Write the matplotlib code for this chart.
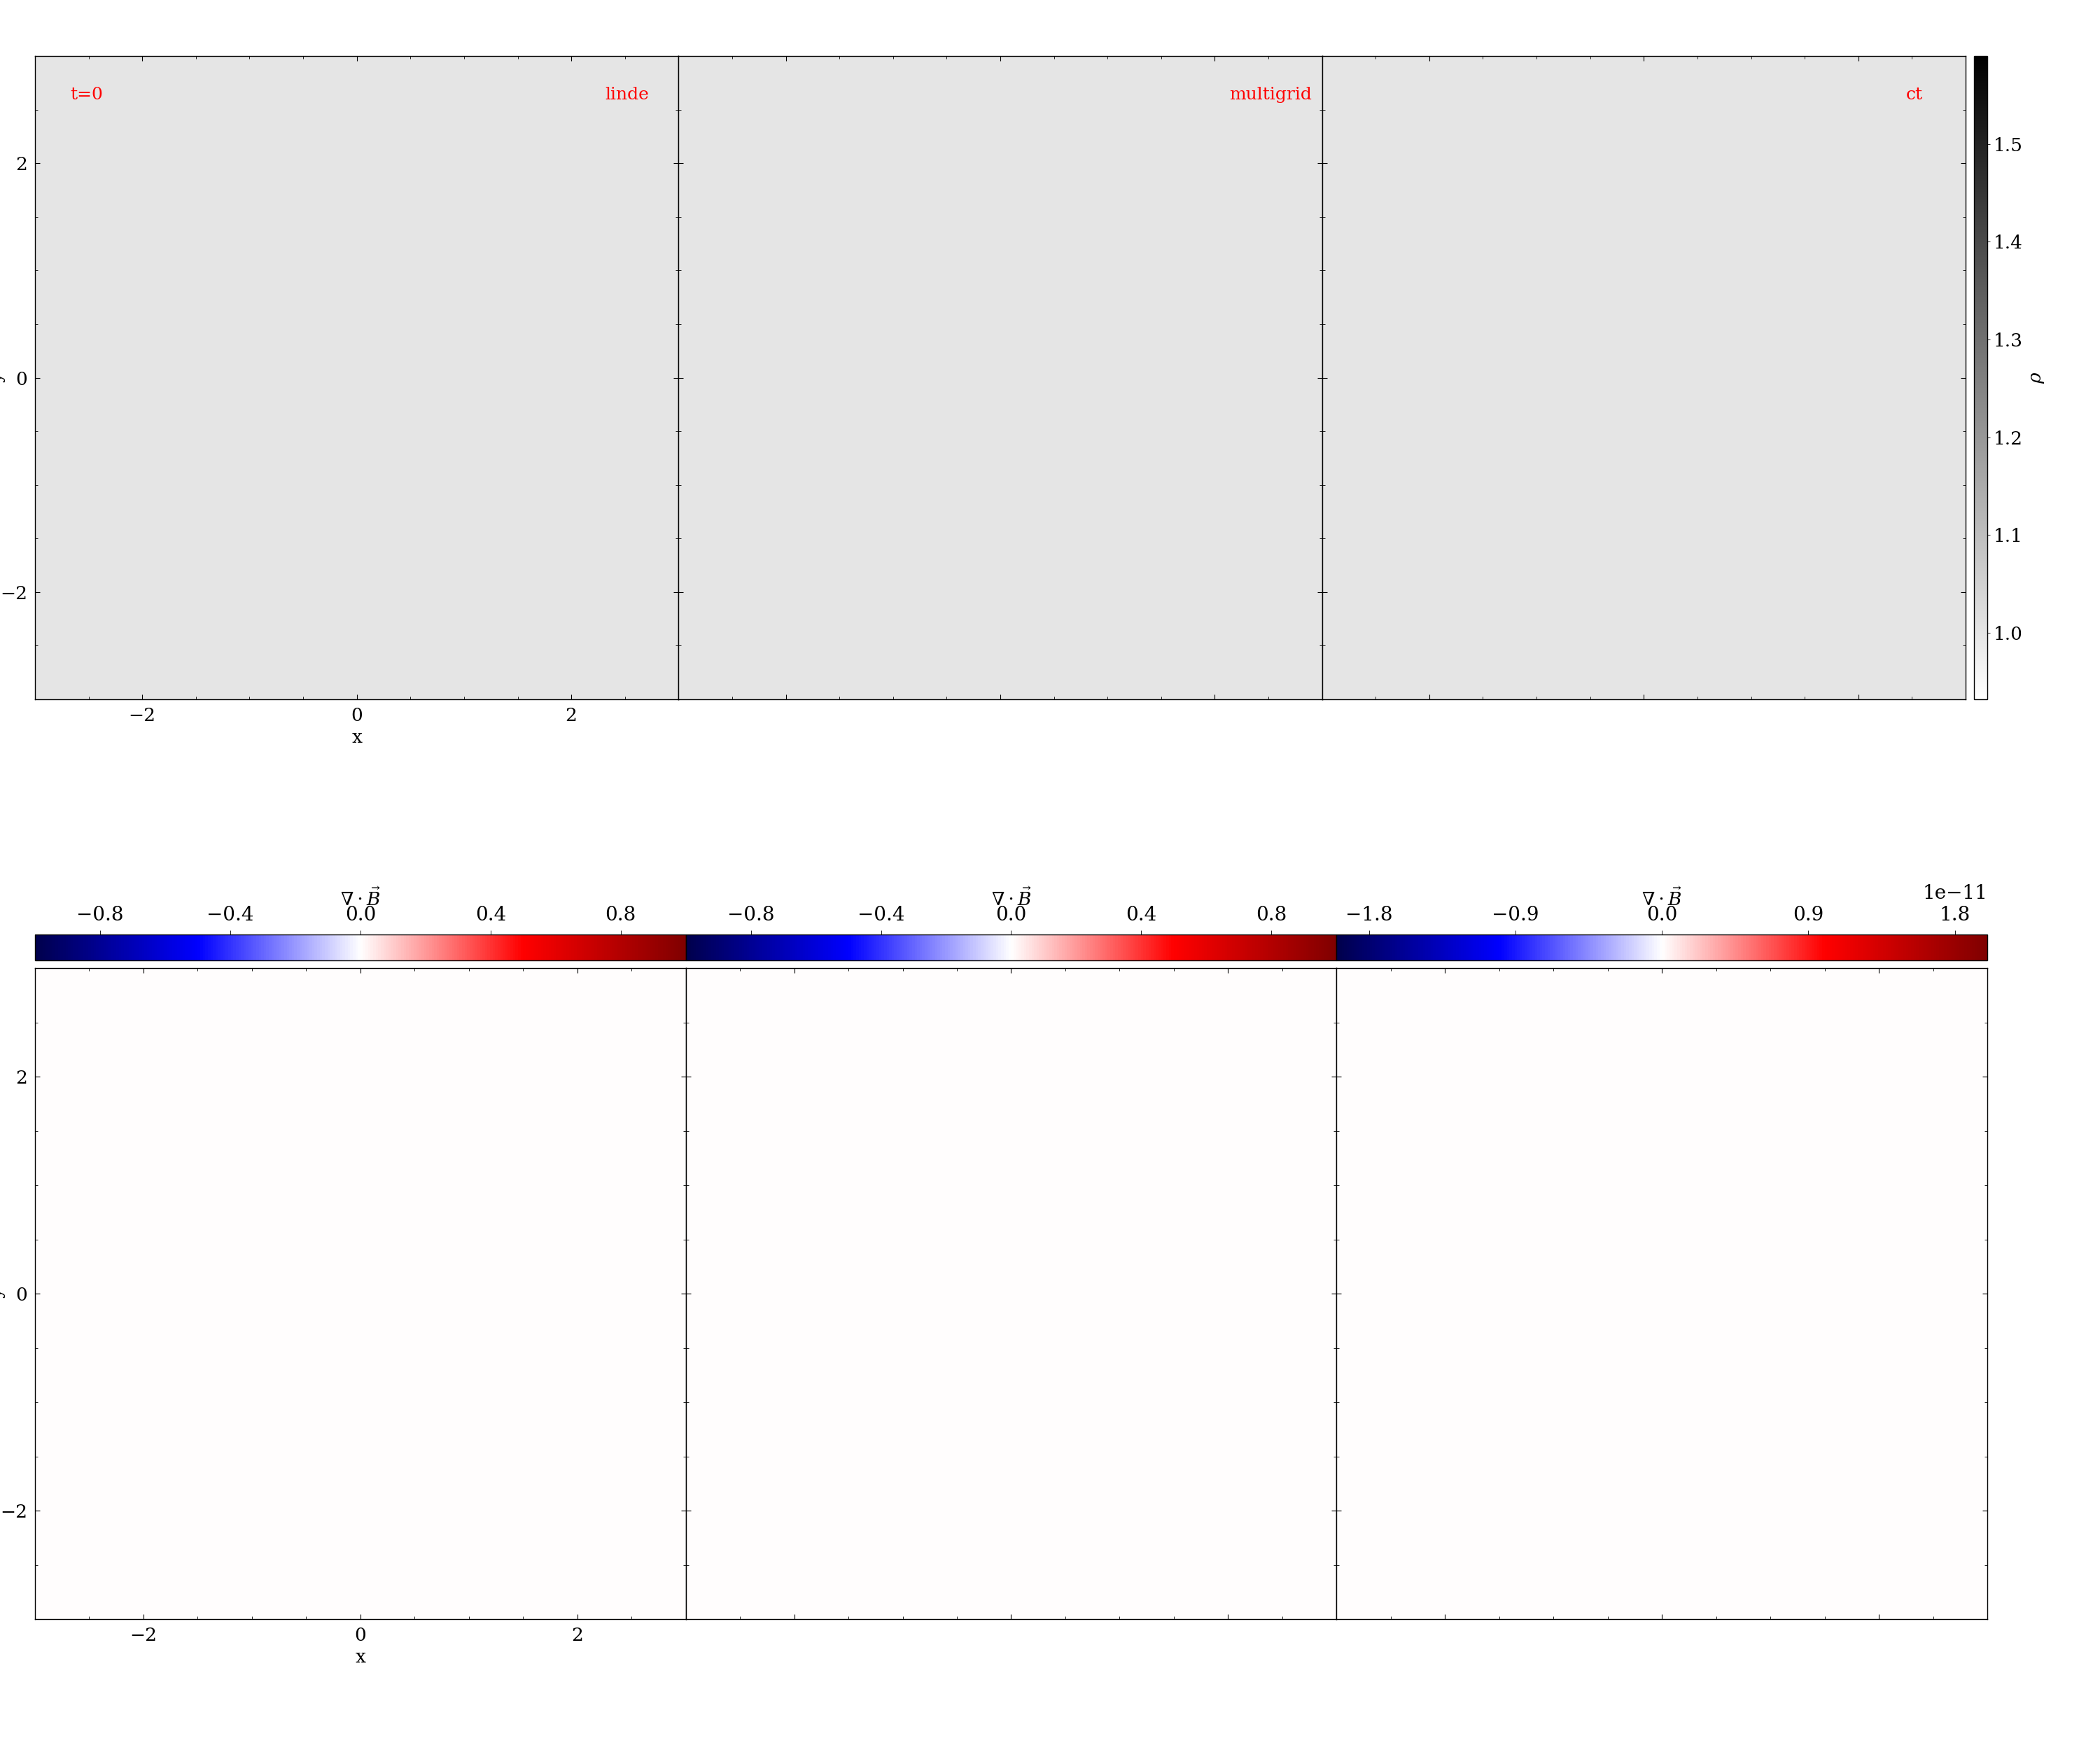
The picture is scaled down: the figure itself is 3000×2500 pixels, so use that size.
import numpy as np
import matplotlib
matplotlib.use("Agg")
import matplotlib.pyplot as plt
from matplotlib.ticker import MultipleLocator, ScalarFormatter

plt.rcParams['font.family'] = ['DejaVu Serif']
plt.rcParams['mathtext.fontset'] = 'dejavuserif'
plt.rcParams['axes.unicode_minus'] = True

# ---- data ----
methods = ['linde', 'multigrid', 'ct']
time_label = 't=0'
rho_level = [1.0, 1.0, 1.0]            # uniform density at t=0
rho_vmin, rho_vmax = 0.932, 1.59
rho_ticks = [1.0, 1.1, 1.2, 1.3, 1.4, 1.5]
divb_level = [0.0, 0.0, 0.0]           # div B essentially zero everywhere
divb_vmax = [1.0, 1.0, 2.0e-11]
divb_ticks = [[-0.8, -0.4, 0.0, 0.4, 0.8],
              [-0.8, -0.4, 0.0, 0.4, 0.8],
              [-1.8e-11, -0.9e-11, 0.0, 0.9e-11, 1.8e-11]]
domain = (-3.0, 3.0, -3.0, 3.0)
major_ticks = [-2, 0, 2]
ngrid = 64

W, H = 3000.0, 2500.0
fig = plt.figure(figsize=(30, 25), dpi=100)

def style_axes(ax, show_labels):
    ax.set_xlim(domain[0], domain[1])
    ax.set_ylim(domain[2], domain[3])
    ax.set_xticks(major_ticks)
    ax.set_yticks(major_ticks)
    ax.xaxis.set_minor_locator(MultipleLocator(0.5))
    ax.yaxis.set_minor_locator(MultipleLocator(0.5))
    ax.tick_params(which='both', direction='in', top=True, right=True,
                   labelsize=19, pad=8)
    ax.tick_params(which='major', length=5, width=0.8)
    ax.tick_params(which='minor', length=3, width=0.6)
    for s in ax.spines.values():
        s.set_linewidth(1.0)
    if show_labels:
        ax.set_xlabel('x', fontsize=19, labelpad=4)
        ax.set_ylabel('y', fontsize=19)
    else:
        ax.tick_params(labelbottom=False, labelleft=False)

def ax_px(x0, y0, x1, y1):
    return fig.add_axes([x0 / W, 1 - y1 / H, (x1 - x0) / W, (y1 - y0) / H])

# ---- top row: density ----
top_w = (2808 - 50) / 3.0
im_top = None
for i, m in enumerate(methods):
    x0 = 50 + i * top_w
    ax = ax_px(x0, 80, x0 + top_w, 999)
    field = np.full((ngrid, ngrid), rho_level[i])
    im_top = ax.imshow(field, cmap='gray_r', vmin=rho_vmin, vmax=rho_vmax,
                       extent=domain, origin='lower', aspect='auto',
                       interpolation='nearest')
    style_axes(ax, i == 0)
    if i == 0:
        ax.yaxis.set_label_coords(-0.046, 0.5)
        ax.text(0.08, 0.94, time_label, transform=ax.transAxes, color='red',
                fontsize=18, ha='center', va='center')
    ax.text(0.92, 0.94, m, transform=ax.transAxes, color='red',
            fontsize=18, ha='center', va='center')

cax_top = ax_px(2820, 80, 2839, 999)
cb = fig.colorbar(im_top, cax=cax_top, orientation='vertical')
cb.set_ticks(rho_ticks)
cb.ax.tick_params(labelsize=19, length=3, width=0.6, direction='out')
cb.outline.set_linewidth(1.0)
cb.set_label(r'$\rho$', fontsize=19, labelpad=6)

# ---- bottom row: div B ----
bot_w = (2839 - 50) / 3.0
for i, m in enumerate(methods):
    x0 = 50 + i * bot_w
    ax = ax_px(x0, 1383, x0 + bot_w, 2313)
    field = np.full((ngrid, ngrid), divb_level[i])
    im = ax.imshow(field, cmap='seismic', vmin=-divb_vmax[i], vmax=divb_vmax[i],
                   extent=domain, origin='lower', aspect='auto',
                   interpolation='nearest')
    style_axes(ax, i == 0)
    if i == 0:
        ax.yaxis.set_label_coords(-0.045, 0.5)
    cax = ax_px(x0, 1335, x0 + bot_w, 1372)
    cbb = fig.colorbar(im, cax=cax, orientation='horizontal', ticklocation='top')
    cbb.set_ticks(divb_ticks[i])
    fmt = ScalarFormatter(useMathText=False)
    cbb.ax.xaxis.set_major_formatter(fmt)
    cbb.ax.tick_params(labelsize=20, length=4, width=0.6, direction='out', pad=6)
    cbb.ax.xaxis.get_offset_text().set_fontsize(20)
    cbb.outline.set_linewidth(1.0)
    cbb.ax.set_xlabel(r'$\nabla\cdot\vec{B}$', fontsize=19)
    cbb.ax.xaxis.set_label_position('top')
    cbb.ax.xaxis.set_label_coords(0.5, 2.1)

fig.savefig('out.png', dpi=100)
